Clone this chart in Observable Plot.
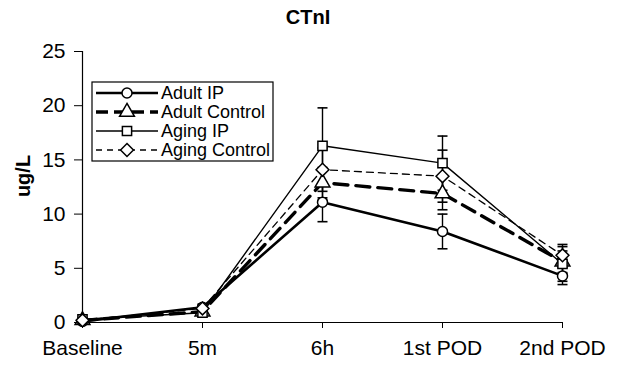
<!DOCTYPE html>
<html><head><meta charset="utf-8">
<script src="https://cdn.jsdelivr.net/npm/d3@7"></script>
<script src="https://cdn.jsdelivr.net/npm/@observablehq/plot@0.6"></script>
<style>body{margin:0;background:#fff;font-family:"Liberation Sans",Arial,sans-serif}</style>
</head><body><div id="chart"></div>
<script>
const categories = ["Baseline", "5m", "6h", "1st POD", "2nd POD"];
const seriesNames = ["Adult IP", "Adult Control", "Aging IP", "Aging Control"];
const adultIP = [0.1, 1.4, 11.1, 8.4, 4.3];
const adultControl = [0.2, 1.0, 12.9, 11.9, 5.6];
const agingIP = [0.3, 0.9, 16.3, 14.7, 5.4];
const agingControl = [0.2, 1.3, 14.1, 13.5, 6.2];
const adultIPErr = [0.1, 0.3, 1.8, 1.6, 0.8];
const adultControlErr = [0.1, 0.3, 1.4, 1.5, 1.0];
const agingIPErr = [0.1, 0.3, 3.5, 2.5, 1.6];
const agingControlErr = [0.1, 0.3, 2.0, 2.4, 1.0];
const yTicks = [0, 5, 10, 15, 20, 25];

const styles = {
  "Adult IP": {sw: 2.6, dash: null, sym: "circle", r: 5},
  "Adult Control": {sw: 3.4, dash: "14,8", sym: "triangle", r: 5.5},
  "Aging IP": {sw: 1.4, dash: null, sym: "square", r: 5.2},
  "Aging Control": {sw: 1.3, dash: "7,5", sym: "diamond2", r: 5.8}
};
const vals = [adultIP, adultControl, agingIP, agingControl];
const errs = [adultIPErr, adultControlErr, agingIPErr, agingControlErr];
const data = seriesNames.flatMap((s, i) => categories.map((c, j) => ({
  series: s, cat: c, v: vals[i][j], lo: vals[i][j] - errs[i][j], hi: vals[i][j] + errs[i][j]
})));

const cap = {draw(ctx, size) { const w = Math.sqrt(size / Math.PI); ctx.moveTo(-w, 0); ctx.lineTo(w, 0); }};
const font = "Liberation Sans, Arial, sans-serif";

const marks = [
  Plot.ruleY([0], {stroke: "#000", strokeWidth: 1.2}),
  Plot.frame({anchor: "left", stroke: "#000", strokeWidth: 1.2}),
  Plot.axisY({ticks: yTicks, tickSize: 8, tickPadding: 9, fontSize: 21, label: null, stroke: "#000"}),
  Plot.axisX({tickSize: 6, tickPadding: 12, fontSize: 21, label: null})
];
for (const s of seriesNames) {
  const st = styles[s];
  const d = data.filter(e => e.series === s);
  marks.push(Plot.line(d, {x: "cat", y: "v", stroke: "#000", strokeWidth: st.sw, strokeDasharray: st.dash}));
}
for (const s of seriesNames) {
  const d = data.filter(e => e.series === s);
  marks.push(Plot.ruleX(d, {x: "cat", y1: "lo", y2: "hi", stroke: "#000", strokeWidth: 1.4}));
  marks.push(Plot.dot(d, {x: "cat", y: "lo", symbol: cap, r: 5, stroke: "#000", strokeWidth: 1.6, fill: "none"}));
  marks.push(Plot.dot(d, {x: "cat", y: "hi", symbol: cap, r: 5, stroke: "#000", strokeWidth: 1.6, fill: "none"}));
}
for (const s of seriesNames) {
  const st = styles[s];
  const d = data.filter(e => e.series === s);
  marks.push(Plot.dot(d, {x: "cat", y: "v", symbol: st.sym, r: st.r, fill: "#fff", stroke: "#000", strokeWidth: 1.5}));
}

const chart = Plot.plot({
  width: 618, height: 366,
  marginTop: 51, marginBottom: 44, marginLeft: 82, marginRight: 56,
  style: {fontFamily: font, color: "#000", background: "#fff"},
  x: {type: "point", domain: categories, padding: 0},
  y: {domain: [0, 25]},
  marks
});
document.getElementById("chart").append(chart);

const svg = d3.select(chart);
svg.append("text").attr("x", 308).attr("y", 24).attr("text-anchor", "middle")
  .attr("font-family", font).attr("font-weight", "bold").attr("font-size", 20).text("CTnI");
svg.append("text").attr("transform", "translate(30,176) rotate(-90)").attr("text-anchor", "middle")
  .attr("font-family", font).attr("font-weight", "bold").attr("font-size", 20).text("ug/L");

// legend
const lg = svg.append("g");
lg.append("rect").attr("x", 92).attr("y", 82).attr("width", 181).attr("height", 79)
  .attr("fill", "#fff").attr("stroke", "#000").attr("stroke-width", 1.2);
const symMap = {circle: d3.symbolCircle, triangle: d3.symbolTriangle, square: d3.symbolSquare, diamond2: d3.symbolDiamond2};
seriesNames.forEach((s, i) => {
  const st = styles[s];
  const y = 93 + i * 19;
  lg.append("line").attr("x1", 96).attr("x2", 158).attr("y1", y).attr("y2", y)
    .attr("stroke", "#000").attr("stroke-width", st.sw).attr("stroke-dasharray", st.dash ? (i === 1 ? "12,6" : "6,5") : null);
  lg.append("path").attr("d", d3.symbol(symMap[st.sym], Math.PI * st.r * st.r)())
    .attr("transform", `translate(127,${y})`).attr("fill", "#fff").attr("stroke", "#000").attr("stroke-width", 1.5);
  lg.append("text").attr("x", 161).attr("y", y).attr("dy", "0.35em").attr("text-anchor", "start")
    .attr("font-family", font).attr("font-size", 18).text(s);
});
</script></body></html>
